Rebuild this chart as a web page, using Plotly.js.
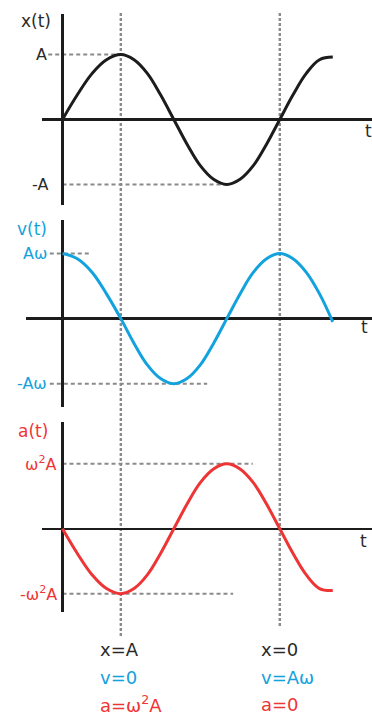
<!DOCTYPE html>
<html>
<head>
<meta charset="utf-8">
<script src="https://cdn.plot.ly/plotly-3.0.1.min.js"></script>
<style>
  html, body { margin: 0; padding: 0; background: #fff; }
  #chart { width: 372px; height: 716px; }
</style>
</head>
<body>
<div id="chart"></div>
<script>
// Time samples (one unit = a quarter period)
const T = [0, 0.28, 0.56, 0.83, 1.1, 1.35, 1.6, 1.85, 2.1, 2.35, 2.6, 2.85, 3.1, 3.35, 3.6, 3.85, 4.1, 4.35, 4.6, 4.85, 5.1];

// Displacement, velocity and acceleration, in units of their amplitudes
const xVals = [0, 0.38, 0.71, 0.92, 1, 0.92, 0.71, 0.38, 0, -0.38, -0.71, -0.92, -1, -0.92, -0.71, -0.38, 0, 0.38, 0.71, 0.92, 0.96];
const vVals = [1, 0.92, 0.71, 0.38, 0, -0.38, -0.71, -0.92, -1, -0.92, -0.71, -0.38, 0, 0.38, 0.71, 0.92, 1, 0.92, 0.71, 0.38, -0.05];
const aVals = [0, -0.38, -0.71, -0.92, -1, -0.92, -0.71, -0.38, 0, 0.38, 0.71, 0.92, 1, 0.92, 0.71, 0.38, 0, -0.38, -0.71, -0.92, -0.95];

// Axis names and amplitude labels
const panelTitles = ['x(t)', 'v(t)', 'a(t)'];
const xAmpLabels = ['A', '-A'];
const vAmpLabels = ['A\u03c9', '-A\u03c9'];
const aAmpLabels = ['\u03c9<sup>2</sup>A', '-\u03c9<sup>2</sup>A'];

// Instants marked by the vertical guides, and the state at each
const markTimes = [1.1, 4.1];
const markStates = [
  ['x=A', 'v=0', 'a=\u03c9<sup>2</sup>A'],
  ['x=0', 'v=A\u03c9', 'a=0']
];

const W = 372, H = 716;
const FONT = 'DejaVu Sans, Arial, sans-serif';
const INK = '#1c1c1c';
const TEXT = '#2a2a2a';
const BLUE = '#12a2dd';
const RED = '#ee3535';
const GUIDE = '#8a8a8a';
const stateColors = [TEXT, BLUE, RED];

// pixel -> paper helpers for free-standing text
const px = v => v / W;
const py = v => 1 - v / H;

function curve(y, xa, ya, color) {
  return {
    x: T, y: y, xaxis: xa, yaxis: ya, type: 'scatter', mode: 'lines',
    line: { color: color, width: 3, shape: 'spline', smoothing: 1.1 },
    hoverinfo: 'skip'
  };
}

const data = [
  curve(xVals, 'x', 'y', INK),
  curve(vVals, 'x2', 'y2', BLUE),
  curve(aVals, 'x3', 'y3', RED)
];

function xAxis(left, range, anchor) {
  return {
    domain: [px(left), 1], range: range, anchor: anchor,
    showgrid: false, showticklabels: false, ticks: '', showline: false,
    zeroline: true, zerolinecolor: INK, zerolinewidth: 2.5, fixedrange: true
  };
}
function yAxis(top, bottom, range, anchor) {
  return {
    domain: [py(bottom), py(top)], range: range, anchor: anchor,
    showgrid: false, showticklabels: false, ticks: '', showline: false,
    zeroline: true, zerolinecolor: INK, zerolinewidth: 2.5, fixedrange: true
  };
}

const shapes = [];
function hGuide(xr, yr, x0, x1, y) {
  shapes.push({ type: 'line', xref: xr, yref: yr, x0: x0, x1: x1, y0: y, y1: y,
    line: { color: GUIDE, width: 2, dash: '4px,3px' }, layer: 'below' });
}
// vertical guides crossing all three panels
shapes.push({ type: 'line', xref: 'x', yref: 'paper', x0: markTimes[0], x1: markTimes[0],
  y0: py(636), y1: py(13), line: { color: GUIDE, width: 2.4, dash: '3px,2px' }, layer: 'below' });
shapes.push({ type: 'line', xref: 'x', yref: 'paper', x0: markTimes[1], x1: markTimes[1],
  y0: py(626), y1: py(13), line: { color: GUIDE, width: 2.4, dash: '3px,2px' }, layer: 'below' });

// amplitude guides
hGuide('x', 'y', -0.27, 1.1, 1);
hGuide('x', 'y', 0, 3.1, -1);
hGuide('x2', 'y2', -0.24, 0.54, 1);
hGuide('x2', 'y2', -0.24, 2.73, -1);
hGuide('x3', 'y3', 0, 3.59, 1);
hGuide('x3', 'y3', 0, 3.22, -1);

const annotations = [];
function txt(text, x, y, color, size, xanchor, yref, xref) {
  annotations.push({
    text: text, x: x, y: y, xref: xref || 'paper', yref: yref || 'paper',
    xanchor: xanchor || 'center', yanchor: 'middle', showarrow: false,
    font: { family: FONT, size: size, color: color }
  });
}

// panel titles
txt(panelTitles[0], px(36), py(21), TEXT, 17);
txt(panelTitles[1], px(32), py(229), BLUE, 17);
txt(panelTitles[2], px(33), py(431), RED, 17);

// amplitude labels
txt(xAmpLabels[0], px(49), 1, TEXT, 16, 'right', 'y');
txt(xAmpLabels[1], px(50), -1, TEXT, 16, 'right', 'y');
txt(vAmpLabels[0], px(49), 1, BLUE, 16, 'right', 'y2');
txt(vAmpLabels[1], px(49), -1, BLUE, 16, 'right', 'y2');
txt(aAmpLabels[0], px(59), 1, RED, 16, 'right', 'y3');
txt(aAmpLabels[1], px(59), -1, RED, 16, 'right', 'y3');

// time-axis letters
txt('t', px(368), py(131), TEXT, 17);
txt('t', px(364), py(327), TEXT, 17);
txt('t', px(363), py(541), TEXT, 17);

// states at the marked instants
const stateRows = [649, 677, 704];
const stateLeft = [98, 259];
markStates.forEach((col, i) => {
  col.forEach((s, j) => txt(s, px(stateLeft[i]), py(stateRows[j]), stateColors[j], 18, 'left'));
});

const layout = {
  width: W, height: H,
  margin: { l: 0, r: 0, t: 0, b: 0 },
  paper_bgcolor: '#fff', plot_bgcolor: 'rgba(0,0,0,0)',
  showlegend: false,
  xaxis: xAxis(42, [-0.387, 5.84], 'y'),
  yaxis: yAxis(14, 205, [-1.315, 1.623], 'x'),
  xaxis2: xAxis(26, [-0.689, 5.84], 'y2'),
  yaxis2: yAxis(220, 407, [-1.357, 1.515], 'x2'),
  xaxis3: xAxis(42, [-0.387, 5.84], 'y3'),
  yaxis3: yAxis(422, 612, [-1.280, 1.643], 'x3'),
  shapes: shapes,
  annotations: annotations,
  hovermode: false
};

Plotly.newPlot('chart', data, layout, { displayModeBar: false, staticPlot: true });
</script>
</body>
</html>
